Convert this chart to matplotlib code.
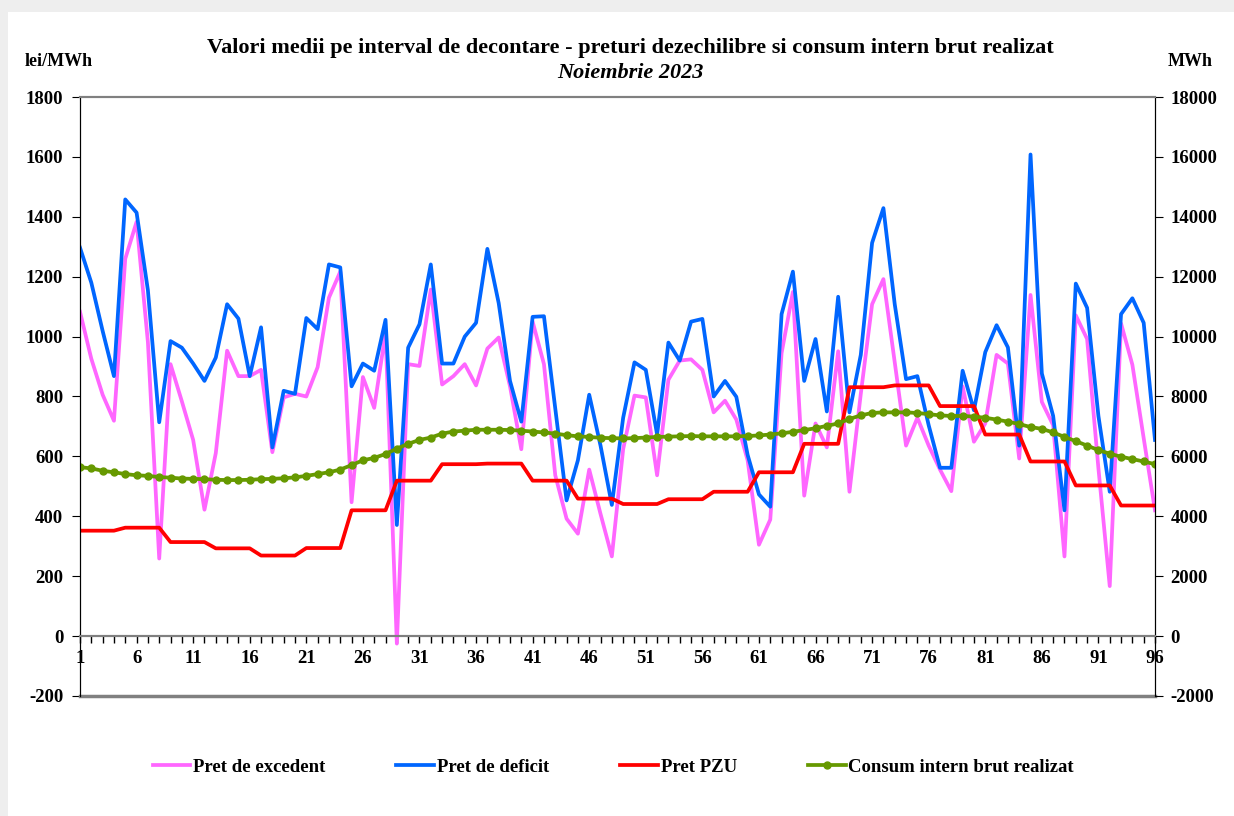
import matplotlib.pyplot as plt
import matplotlib.patches as patches
from matplotlib.ticker import MultipleLocator

intervals = list(range(1, 97))

pret_excedent = [1083, 926, 806, 719, 1260, 1383, 982, 259, 908, 784, 655, 422,
                 611, 953, 868, 868, 889, 614, 797, 809, 800, 898, 1130, 1217,
                 447, 865, 762, 1013, -25, 908, 902, 1157, 840, 868, 908, 837,
                 960, 997, 834, 624, 1050, 908, 537, 392, 342, 556, 408, 266,
                 624, 803, 797, 537, 856, 920, 924, 889, 747, 786, 723, 587,
                 305, 389, 945, 1149, 469, 710, 630, 951, 482, 809, 1108, 1192,
                 914, 636, 729, 636, 556, 484, 834, 649, 710, 939, 910, 593,
                 1139, 782, 704, 266, 1071, 992, 560, 167, 1044, 906, 661, 420]

pret_deficit = [1297, 1180, 1019, 868, 1458, 1414, 1155, 714, 985, 963, 910, 852,
                930, 1108, 1060, 868, 1031, 630, 819, 809, 1062, 1025, 1241, 1231,
                834, 910, 886, 1056, 371, 963, 1041, 1241, 910, 910, 1000, 1046,
                1293, 1112, 852, 716, 1066, 1068, 760, 453, 587, 806, 636, 438,
                729, 914, 889, 673, 980, 920, 1050, 1059, 800, 852, 799, 605,
                473, 432, 1075, 1217, 852, 992, 750, 1133, 747, 939, 1313, 1429,
                1108, 858, 868, 704, 562, 562, 886, 754, 948, 1038, 964, 636,
                1608, 877, 735, 420, 1177, 1096, 735, 482, 1075, 1128, 1046, 655]

pret_pzu = [352, 352, 352, 352, 362, 362, 362, 362, 314, 314, 314, 314,
            293, 293, 293, 293, 269, 269, 269, 269, 294, 294, 294, 294,
            420, 420, 420, 420, 519, 519, 519, 519, 574, 574, 574, 574,
            576, 576, 576, 576, 519, 519, 519, 519, 459, 459, 459, 459,
            441, 441, 441, 441, 457, 457, 457, 457, 482, 482, 482, 482,
            547, 547, 547, 547, 642, 642, 642, 642, 831, 831, 831, 831,
            837, 837, 837, 837, 768, 768, 768, 768, 673, 673, 673, 673,
            583, 583, 583, 583, 503, 503, 503, 503, 436, 436, 436, 436]

consum = [5640, 5600, 5520, 5470, 5410, 5370, 5350, 5310, 5290, 5260, 5250, 5240,
          5220, 5210, 5210, 5220, 5240, 5250, 5270, 5300, 5350, 5410, 5470, 5560,
          5710, 5870, 5950, 6080, 6260, 6420, 6550, 6630, 6760, 6830, 6860, 6890,
          6890, 6890, 6880, 6860, 6830, 6800, 6760, 6710, 6670, 6650, 6620, 6610,
          6600, 6610, 6630, 6650, 6660, 6670, 6680, 6670, 6670, 6670, 6670, 6680,
          6700, 6730, 6770, 6820, 6880, 6940, 7020, 7100, 7250, 7370, 7450, 7470,
          7470, 7470, 7450, 7410, 7370, 7350, 7350, 7330, 7290, 7230, 7160, 7080,
          6980, 6920, 6800, 6650, 6510, 6360, 6210, 6090, 5990, 5910, 5830, 5740]

plt.rcParams['font.family'] = ['Liberation Serif', 'DejaVu Serif']
plt.rcParams['font.weight'] = 'bold'
plt.rcParams['axes.unicode_minus'] = False

fig = plt.figure(figsize=(12.34, 8.16), dpi=100)
fig.patch.set_facecolor('#eeeeee')
# fondul alb peste rama gri
fig.add_artist(patches.Rectangle((8 / 1234, 0), 1, 1 - 12 / 816, transform=fig.transFigure,
                                 facecolor='white', edgecolor='none', zorder=-10))

ax = fig.add_axes([80 / 1234, 1 - 696 / 816, 1075 / 1234, 599 / 816])
ax.set_facecolor('none')
ax2 = ax.twinx()

ax.plot(intervals, pret_excedent, color='#ff66ff', lw=2.7, label='Pret de excedent')
ax.plot(intervals, pret_deficit, color='#0066ff', lw=2.7, label='Pret de deficit')
ax.plot(intervals, pret_pzu, color='#ff0000', lw=2.7, label='Pret PZU')
ax2.plot(intervals, consum, color='#669900', lw=2.7, marker='o', markersize=5,
         label='Consum intern brut realizat')

ax.set_xlim(1, 96)
ax.set_ylim(-200, 1800)
ax2.set_ylim(-2000, 18000)
ax.yaxis.set_major_locator(MultipleLocator(200))
ax2.yaxis.set_major_locator(MultipleLocator(2000))
ax.set_xticks(list(range(1, 97, 5)))
ax.xaxis.set_minor_locator(MultipleLocator(1))

for a in (ax, ax2):
    a.spines['top'].set_color('#808080')
    a.spines['top'].set_linewidth(1.5)
    a.spines['bottom'].set_position(('data', 0))
    a.spines['bottom'].set_color('#808080')
    a.spines['bottom'].set_linewidth(1.5)
    a.spines['left'].set_color('black')
    a.spines['right'].set_color('black')
ax.axhline(-200, color='#808080', lw=2.5, clip_on=False)

ax.tick_params(axis='x', which='both', direction='out', length=5, width=1, color='black',
               labelsize=13.5, pad=5)
ax.tick_params(axis='y', direction='out', length=6, labelsize=13.5, pad=6)
ax2.tick_params(axis='y', direction='out', length=6, labelsize=13.5, pad=5)
for lbl in ax.get_xticklabels() + ax.get_yticklabels() + ax2.get_yticklabels():
    lbl.set_fontweight('bold')

fig.text(0.511, 1 - 48 / 816, 'Valori medii pe interval de decontare - preturi dezechilibre si consum intern brut realizat',
         ha='center', va='center', fontsize=16, fontweight='bold')
fig.text(0.511, 1 - 73 / 816, 'Noiembrie 2023', ha='center', va='center', fontsize=16,
         fontweight='bold', style='italic')
fig.text(59 / 1234, 1 - 62 / 816, 'lei/MWh', ha='center', va='center', fontsize=13, fontweight='bold')
fig.text(1190 / 1234, 1 - 62 / 816, 'MWh', ha='center', va='center', fontsize=13, fontweight='bold')

h1, l1 = ax.get_legend_handles_labels()
h2, l2 = ax2.get_legend_handles_labels()
fig.legend(h1 + h2, l1 + l2, loc='center', bbox_to_anchor=(0.497, 1 - 767 / 816), ncol=4,
           frameon=False, prop={'size': 13.5, 'weight': 'bold'}, handlelength=2.0,
           handletextpad=0.15, columnspacing=3.8)

fig.savefig('out.png', dpi=100, facecolor=fig.get_facecolor())
